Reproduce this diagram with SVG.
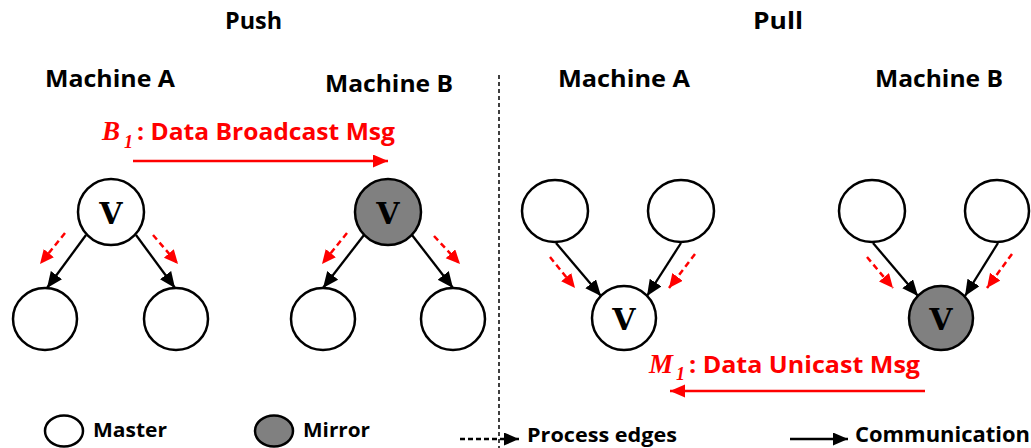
<svg xmlns="http://www.w3.org/2000/svg" width="1031" height="448" viewBox="0 0 1031 448">
<style>
.t{font-family:"Open Sans","Liberation Sans",Arial,sans-serif;font-weight:bold;fill:#000}
.r{fill:#ff0000}
.m{font-family:"Liberation Serif","Times New Roman",serif;font-style:italic;font-weight:bold;fill:#ff0000}
.v{font-family:"DejaVu Serif","Liberation Serif",serif;font-weight:bold;font-size:30px;fill:#000;text-anchor:middle}
.n{fill:#fff;stroke:#000;stroke-width:2.5}
.g{fill:#808080;stroke:#000;stroke-width:2.5}
.b{stroke:#000;stroke-width:2.3;fill:none;marker-end:url(#hb)}
.d{stroke:#ff0000;stroke-width:2.5;fill:none;stroke-dasharray:6 4;marker-end:url(#hr)}
.msg{stroke:#ff0000;stroke-width:2.5;fill:none;marker-end:url(#hm)}
</style>
<defs>
<marker id="hb" markerUnits="userSpaceOnUse" markerWidth="17" markerHeight="15" refX="16" refY="7" orient="auto"><path d="M0,0 L16,7 L0,14 z" fill="#000"/></marker>
<marker id="hr" markerUnits="userSpaceOnUse" markerWidth="15" markerHeight="14" refX="14" refY="6.5" orient="auto"><path d="M0,0 L14,6.5 L0,13 z" fill="#ff0000"/></marker>
<marker id="hm" markerUnits="userSpaceOnUse" markerWidth="16" markerHeight="14" refX="15" refY="6.5" orient="auto"><path d="M0,0 L15,6.5 L0,13 z" fill="#ff0000"/></marker>
<marker id="hl" markerUnits="userSpaceOnUse" markerWidth="16" markerHeight="14" refX="15" refY="6.5" orient="auto"><path d="M0,0 L15,6.5 L0,13 z" fill="#000"/></marker>
</defs>
<rect width="1031" height="448" fill="#fff"/>

<g id="titles">
<text class="t" x="225" y="29" font-size="24" textLength="57" lengthAdjust="spacingAndGlyphs">Push</text>
<text class="t" x="753" y="29" font-size="24" textLength="50" lengthAdjust="spacingAndGlyphs">Pull</text>
<text class="t" x="45" y="87" font-size="24" textLength="130" lengthAdjust="spacingAndGlyphs">Machine A</text>
<text class="t" x="325" y="92" font-size="24" textLength="128" lengthAdjust="spacingAndGlyphs">Machine B</text>
<text class="t" x="558" y="87" font-size="24" textLength="132" lengthAdjust="spacingAndGlyphs">Machine A</text>
<text class="t" x="875" y="87" font-size="24" textLength="128" lengthAdjust="spacingAndGlyphs">Machine B</text>
</g>

<line id="divider" x1="499" y1="75" x2="499" y2="448" stroke="#000" stroke-width="1.5" stroke-dasharray="4 3"/>

<g id="pushA-v"><circle class="n" cx="111" cy="212" r="33"/><text class="v" x="111" y="224">V</text></g>
<g id="pushA-l"><ellipse class="n" cx="45" cy="319" rx="32" ry="31"/></g>
<g id="pushA-r"><ellipse class="n" cx="176" cy="319" rx="32" ry="31"/></g>
<g id="pushB-v"><circle class="g" cx="388" cy="212" r="33"/><text class="v" x="388" y="224">V</text></g>
<g id="pushB-l"><ellipse class="n" cx="323" cy="319" rx="32" ry="31"/></g>
<g id="pushB-r"><ellipse class="n" cx="453" cy="319" rx="32" ry="31"/></g>

<g id="pullA-l"><ellipse class="n" cx="555" cy="211" rx="33" ry="31"/></g>
<g id="pullA-r"><ellipse class="n" cx="681" cy="211" rx="33" ry="31"/></g>
<g id="pullA-v"><circle class="n" cx="624" cy="318" r="32"/><text class="v" x="624" y="330">V</text></g>
<g id="pullB-l"><ellipse class="n" cx="872" cy="211" rx="33" ry="31"/></g>
<g id="pullB-r"><ellipse class="n" cx="997" cy="211" rx="32" ry="31"/></g>
<g id="pullB-v"><circle class="g" cx="941" cy="318" r="32"/><text class="v" x="941" y="330">V</text></g>

<g id="connectors">
<line class="b" x1="86" y1="235" x2="47" y2="288"/>
<line class="b" x1="136" y1="235" x2="175" y2="288"/>
<line class="d" x1="65" y1="233" x2="40" y2="264"/>
<line class="d" x1="153" y1="235" x2="178" y2="264"/>
<line class="b" x1="364" y1="235" x2="323" y2="288"/>
<line class="b" x1="412" y1="235" x2="453" y2="288"/>
<line class="d" x1="347" y1="233" x2="322" y2="264"/>
<line class="d" x1="434" y1="236" x2="460" y2="264"/>
<line class="b" x1="556" y1="243" x2="601" y2="296"/>
<line class="b" x1="681" y1="243" x2="647" y2="296"/>
<line class="d" x1="550" y1="257" x2="575" y2="288"/>
<line class="d" x1="695" y1="254" x2="669" y2="288"/>
<line class="b" x1="873" y1="243" x2="918" y2="296"/>
<line class="b" x1="998" y1="243" x2="965" y2="296"/>
<line class="d" x1="867" y1="257" x2="893" y2="288"/>
<line class="d" x1="1012" y1="254" x2="987" y2="288"/>
<line class="msg" x1="133" y1="161" x2="388" y2="161"/>
<line class="msg" x1="925" y1="391" x2="670" y2="391"/>
</g>

<g id="msg-labels">
<text class="m" x="102" y="140" font-size="27">B</text>
<text class="m" x="124" y="148" font-size="18" font-style="normal">1</text>
<text class="t r" x="137" y="140" font-size="24" textLength="258" lengthAdjust="spacingAndGlyphs">: Data Broadcast Msg</text>
<text class="m" x="649" y="373" font-size="27">M</text>
<text class="m" x="676" y="380" font-size="18" font-style="normal">1</text>
<text class="t r" x="689" y="373" font-size="24" textLength="231" lengthAdjust="spacingAndGlyphs">: Data Unicast Msg</text>
</g>

<g id="legend">
<ellipse class="n" cx="64" cy="431" rx="19" ry="15.5"/>
<text class="t" x="93" y="437" font-size="20" textLength="74" lengthAdjust="spacingAndGlyphs">Master</text>
<ellipse class="g" cx="274" cy="431" rx="19" ry="15.5"/>
<text class="t" x="303" y="437" font-size="20" textLength="67" lengthAdjust="spacingAndGlyphs">Mirror</text>
<line x1="460" y1="439" x2="519" y2="439" stroke="#000" stroke-width="2.4" stroke-dasharray="5 3" marker-end="url(#hl)"/>
<text class="t" x="527" y="442" font-size="20" textLength="150" lengthAdjust="spacingAndGlyphs">Process edges</text>
<line x1="790" y1="439" x2="848" y2="439" stroke="#000" stroke-width="2.4" marker-end="url(#hl)"/>
<text class="t" x="855" y="442" font-size="21" textLength="175" lengthAdjust="spacingAndGlyphs">Communication</text>
</g>
</svg>
